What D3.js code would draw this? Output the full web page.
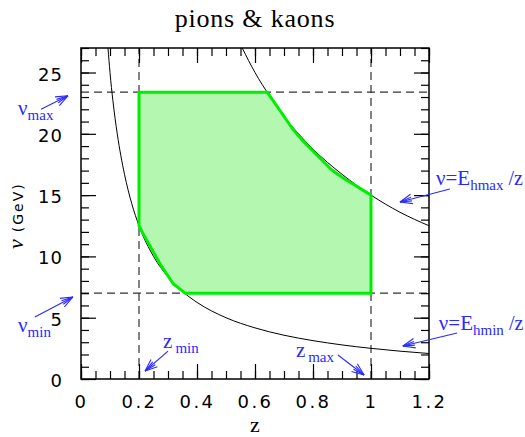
<!DOCTYPE html>
<html>
<head>
<meta charset="utf-8">
<script src="https://cdn.jsdelivr.net/npm/d3@7"></script>
<style>
  body { margin: 0; background: #fff; }
</style>
</head>
<body>
<script>
// kinematic limits
var zMin = 0.2, zMax = 1.0;
var nuMin = 7.0, nuMax = 23.4;

// nu = Ehmin / z
var lowZ  = [0.093, 0.1, 0.11, 0.125, 0.15, 0.175, 0.2, 0.25, 0.3, 0.35, 0.4, 0.5, 0.6, 0.7, 0.8, 0.9, 1.0, 1.1, 1.2];
var lowNu = [27.0, 25.0, 22.7, 20.0, 16.7, 14.3, 12.5, 10.0, 8.33, 7.14, 6.25, 5.0, 4.17, 3.57, 3.13, 2.78, 2.5, 2.27, 2.08];

// nu = Ehmax / z  (upper curve)
var highZ  = [0.556, 0.6, 0.65, 0.7, 0.75, 0.8, 0.9, 1.0, 1.1, 1.2];
var highNu = [27.0, 25.0, 23.1, 21.4, 20.0, 18.75, 16.7, 15.0, 13.6, 12.5];

// allowed region (green polygon)
var regionZ  = [0.2, 0.642, 0.732, 0.767, 0.864, 0.904, 1.0, 1.0, 0.359, 0.318, 0.278, 0.213, 0.2];
var regionNu = [23.4, 23.4, 20.33, 19.38, 17.07, 16.39, 15.0, 7.0, 7.0, 7.77, 9.18, 11.9, 12.5];

var xTicks = [0, 0.2, 0.4, 0.6, 0.8, 1.0, 1.2];
var xTickLabels = ["0", "0.2", "0.4", "0.6", "0.8", "1", "1.2"];
var yTicks = [0, 5, 10, 15, 20, 25];
var yTickLabels = ["0", "5", "10", "15", "20", "25"];

var width = 525, height = 437;
var margin = {left: 81, right: 96, top: 48, bottom: 58};

var svg = d3.select("body")
  .append("svg")
  .attr("width", width)
  .attr("height", height);

var x = d3.scaleLinear().domain([0, 1.2]).range([margin.left, width - margin.right]);
var y = d3.scaleLinear().domain([0, 27]).range([height - margin.bottom, margin.top]);

// title
svg.append("text")
  .attr("x", (x(0) + x(1.2)) / 2)
  .attr("y", 27)
  .attr("text-anchor", "middle")
  .style("font-family", "Liberation Serif")
  .style("font-size", "26px")
  .style("letter-spacing", "0.8px")
  .text("pions & kaons");

// dashed limits
var dash = "8,5";
[zMin, zMax].forEach(function(z){
  svg.append("line")
    .attr("x1", x(z)).attr("x2", x(z))
    .attr("y1", y(0)).attr("y2", y(27))
    .attr("stroke", "#333").attr("stroke-width", 1.2)
    .attr("stroke-dasharray", dash);
});
[nuMin, nuMax].forEach(function(n){
  svg.append("line")
    .attr("x1", x(0)).attr("x2", x(1.2))
    .attr("y1", y(n)).attr("y2", y(n))
    .attr("stroke", "#333").attr("stroke-width", 1.2)
    .attr("stroke-dasharray", dash);
});

// curves
var line = d3.line()
  .x(function(d){ return x(d[0]); })
  .y(function(d){ return y(d[1]); })
  .curve(d3.curveMonotoneX);

svg.append("path")
  .datum(d3.zip(lowZ, lowNu))
  .attr("d", line)
  .attr("fill", "none").attr("stroke", "#000").attr("stroke-width", 1);

svg.append("path")
  .datum(d3.zip(highZ, highNu))
  .attr("d", line)
  .attr("fill", "none").attr("stroke", "#000").attr("stroke-width", 1);

// region
var poly = d3.line()
  .x(function(d){ return x(d[0]); })
  .y(function(d){ return y(d[1]); });

svg.append("path")
  .datum(d3.zip(regionZ, regionNu))
  .attr("d", function(d){ return poly(d) + "Z"; })
  .attr("fill", "#b3f7b0")
  .attr("stroke", "#00ee00")
  .attr("stroke-width", 3)
  .attr("stroke-linejoin", "round");

// axes, ticks inside on all four sides
var xMinor = d3.range(0, 1.2001, 0.05);
var yMinor = d3.range(0, 27.001, 1);

function drawAxis(axis, transform) {
  var g = svg.append("g").attr("transform", transform).call(axis);
  g.select(".domain").remove();
  g.selectAll("line").attr("stroke", "#000").attr("stroke-width", 1.2);
  return g;
}

drawAxis(d3.axisBottom(x).tickValues(xMinor).tickSize(-8).tickFormat(""), "translate(0," + y(0) + ")");
drawAxis(d3.axisTop(x).tickValues(xMinor).tickSize(-8).tickFormat(""), "translate(0," + y(27) + ")");
drawAxis(d3.axisLeft(y).tickValues(yMinor).tickSize(-8).tickFormat(""), "translate(" + x(0) + ",0)");
drawAxis(d3.axisRight(y).tickValues(yMinor).tickSize(-8).tickFormat(""), "translate(" + x(1.2) + ",0)");

var gx = drawAxis(d3.axisBottom(x).tickValues(xTicks).tickSize(-15).tickPadding(16)
    .tickFormat(function(d, i){ return xTickLabels[i]; }), "translate(0," + y(0) + ")");
drawAxis(d3.axisTop(x).tickValues(xTicks).tickSize(-15).tickFormat(""), "translate(0," + y(27) + ")");
var gy = drawAxis(d3.axisLeft(y).tickValues(yTicks).tickSize(-15).tickPadding(18)
    .tickFormat(function(d, i){ return yTickLabels[i]; }), "translate(" + x(0) + ",0)");
drawAxis(d3.axisRight(y).tickValues(yTicks).tickSize(-15).tickFormat(""), "translate(" + x(1.2) + ",0)");

gx.selectAll("text")
  .style("font-family", "DejaVu Sans").style("font-size", "18px")
  .style("letter-spacing", "2.5px").attr("fill", "#000");
gy.selectAll("text")
  .style("font-family", "DejaVu Sans").style("font-size", "18px")
  .style("letter-spacing", "1px")
  .attr("dy", "0.42em").attr("fill", "#000");

// frame
svg.append("rect")
  .attr("x", x(0)).attr("y", y(27))
  .attr("width", x(1.2) - x(0)).attr("height", y(0) - y(27))
  .attr("fill", "none").attr("stroke", "#000").attr("stroke-width", 1.5);

// axis titles
svg.append("text")
  .attr("x", (x(0) + x(1.2)) / 2)
  .attr("y", 432)
  .attr("text-anchor", "middle")
  .style("font-family", "Liberation Serif")
  .style("font-size", "22px")
  .text("z");

var yl = svg.append("text")
  .attr("transform", "translate(23,249) rotate(-90)")
  .attr("text-anchor", "start");
yl.append("tspan")
  .style("font-family", "Liberation Serif").style("font-style", "italic")
  .style("font-size", "22px").text("\u03bd");
yl.append("tspan")
  .attr("dx", 7)
  .style("font-family", "DejaVu Sans").style("font-size", "14px")
  .style("letter-spacing", "2px").text("(GeV)");

// blue annotations, positions in data units
var blue = "#2a2aff";
var labels = [
  {main: "\u03bd", sub: "max", tail: "", at: [-0.217, 21.5]},
  {main: "\u03bd", sub: "min", tail: "", at: [-0.217, 3.8]},
  {main: "z", sub: "min", tail: "", at: [0.283, 2.5], gap: 3},
  {main: "z", sub: "max", tail: "", at: [0.741, 1.8], gap: 3},
  {main: "\u03bd=E", sub: "hmax", tail: " /z", at: [1.224, 15.8]},
  {main: "\u03bd=E", sub: "hmin", tail: " /z", at: [1.234, 4.0]}
];
var arrows = [
  [[-0.138, 22.0], [-0.045, 23.1]],
  [[-0.159, 5.06], [-0.028, 6.69]],
  [[0.3, 2.28], [0.221, 0.65]],
  [[0.886, 1.96], [0.976, 0.33]],
  [[1.272, 15.5], [1.1, 14.44]],
  [[1.297, 3.75], [1.11, 2.69]]
];

labels.forEach(function(l){
  var t = svg.append("text")
    .attr("x", x(l.at[0])).attr("y", y(l.at[1]))
    .style("font-family", "Liberation Serif")
    .attr("fill", blue);
  t.append("tspan").style("font-size", "21px").text(l.main);
  t.append("tspan").attr("dx", l.gap || 0).attr("dy", 5).style("font-size", "15px").text(l.sub);
  if (l.tail) t.append("tspan").attr("dy", -5).style("font-size", "20px").text(l.tail);
});

arrows.forEach(function(a){
  var x1 = x(a[0][0]), y1 = y(a[0][1]), x2 = x(a[1][0]), y2 = y(a[1][1]);
  var ang = Math.atan2(y2 - y1, x2 - x1);
  var g = svg.append("g").attr("stroke", blue).attr("stroke-width", 1.1).attr("fill", "none");
  g.append("line").attr("x1", x1).attr("y1", y1).attr("x2", x2).attr("y2", y2);
  [[0.38, 13], [-0.38, 13], [0.16, 12], [-0.16, 12]].forEach(function(b){
    g.append("line")
      .attr("x1", x2).attr("y1", y2)
      .attr("x2", x2 - b[1] * Math.cos(ang + b[0]))
      .attr("y2", y2 - b[1] * Math.sin(ang + b[0]));
  });
});
</script>
</body>
</html>
